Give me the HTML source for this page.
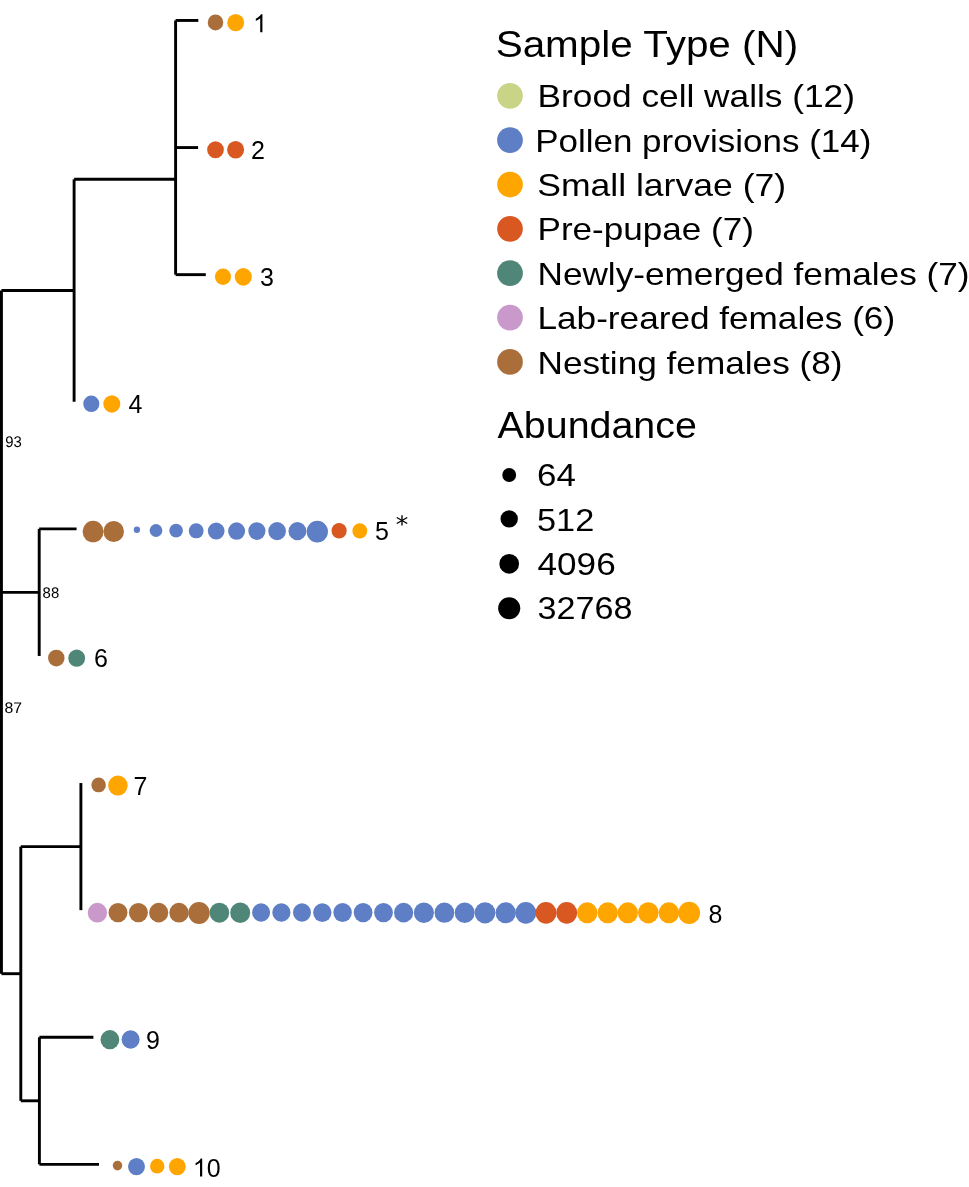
<!DOCTYPE html><html><head><meta charset="utf-8"><style>html,body{margin:0;padding:0;background:#fff;width:969px;height:1187px;overflow:hidden}svg{position:absolute;left:0;top:0;will-change:transform}text{font-family:"Liberation Sans",sans-serif}</style></head><body>
<svg width="969" height="1187" viewBox="0 0 969 1187">
<rect width="969" height="1187" fill="#fff"/>
<g stroke="#000" stroke-width="2.9" stroke-linecap="butt" fill="none">
<line x1="1.45" y1="290.45" x2="1.45" y2="973.70"/>
<line x1="1.45" y1="290.45" x2="74.10" y2="290.45"/>
<line x1="74.10" y1="179.30" x2="74.10" y2="401.75"/>
<line x1="74.10" y1="179.30" x2="175.60" y2="179.30"/>
<line x1="175.60" y1="20.45" x2="175.60" y2="274.65"/>
<line x1="175.60" y1="20.45" x2="198.30" y2="20.45"/>
<line x1="175.60" y1="147.55" x2="198.10" y2="147.55"/>
<line x1="175.60" y1="274.65" x2="205.80" y2="274.65"/>
<line x1="1.45" y1="592.40" x2="39.20" y2="592.40"/>
<line x1="39.20" y1="528.85" x2="39.20" y2="655.95"/>
<line x1="39.20" y1="528.85" x2="76.60" y2="528.85"/>
<line x1="1.45" y1="973.70" x2="20.80" y2="973.70"/>
<line x1="20.80" y1="846.60" x2="20.80" y2="1100.80"/>
<line x1="20.80" y1="846.60" x2="80.90" y2="846.60"/>
<line x1="80.90" y1="783.05" x2="80.90" y2="910.15"/>
<line x1="20.80" y1="1100.80" x2="39.40" y2="1100.80"/>
<line x1="39.40" y1="1037.25" x2="39.40" y2="1164.35"/>
<line x1="39.40" y1="1037.25" x2="93.40" y2="1037.25"/>
<line x1="39.40" y1="1164.35" x2="99.00" y2="1164.35"/>
</g>
<g>
<ellipse cx="215.50" cy="22.46" rx="7.75" ry="7.94" fill="#AA6E3A"/>
<ellipse cx="235.70" cy="22.66" rx="8.50" ry="8.71" fill="#FFA500"/>
<ellipse cx="215.50" cy="149.72" rx="8.35" ry="8.56" fill="#D95721"/>
<ellipse cx="235.60" cy="149.76" rx="8.50" ry="8.71" fill="#D95721"/>
<ellipse cx="223.00" cy="276.74" rx="8.05" ry="8.25" fill="#FFA500"/>
<ellipse cx="243.30" cy="276.87" rx="8.55" ry="8.76" fill="#FFA500"/>
<ellipse cx="91.30" cy="403.84" rx="8.05" ry="8.25" fill="#5E7EC6"/>
<ellipse cx="111.80" cy="403.96" rx="8.50" ry="8.71" fill="#FFA500"/>
<ellipse cx="93.10" cy="531.58" rx="10.50" ry="10.76" fill="#AA6E3A"/>
<ellipse cx="113.70" cy="531.51" rx="10.25" ry="10.51" fill="#AA6E3A"/>
<ellipse cx="136.90" cy="529.67" rx="3.15" ry="3.23" fill="#5E7EC6"/>
<ellipse cx="156.00" cy="530.50" rx="6.35" ry="6.51" fill="#5E7EC6"/>
<ellipse cx="176.10" cy="530.62" rx="6.80" ry="6.97" fill="#5E7EC6"/>
<ellipse cx="196.20" cy="530.77" rx="7.40" ry="7.58" fill="#5E7EC6"/>
<ellipse cx="216.20" cy="531.02" rx="8.35" ry="8.56" fill="#5E7EC6"/>
<ellipse cx="236.60" cy="531.06" rx="8.50" ry="8.71" fill="#5E7EC6"/>
<ellipse cx="256.90" cy="531.09" rx="8.60" ry="8.81" fill="#5E7EC6"/>
<ellipse cx="277.10" cy="531.14" rx="8.80" ry="9.02" fill="#5E7EC6"/>
<ellipse cx="297.40" cy="531.16" rx="8.90" ry="9.12" fill="#5E7EC6"/>
<ellipse cx="317.30" cy="531.62" rx="10.65" ry="10.92" fill="#5E7EC6"/>
<ellipse cx="339.10" cy="530.83" rx="7.60" ry="7.79" fill="#D95721"/>
<ellipse cx="359.80" cy="530.79" rx="7.45" ry="7.64" fill="#FFA500"/>
<ellipse cx="56.30" cy="658.10" rx="8.25" ry="8.46" fill="#AA6E3A"/>
<ellipse cx="76.70" cy="658.13" rx="8.40" ry="8.61" fill="#4F8677"/>
<ellipse cx="98.60" cy="784.93" rx="7.25" ry="7.43" fill="#AA6E3A"/>
<ellipse cx="117.90" cy="785.58" rx="9.75" ry="9.99" fill="#FFA500"/>
<ellipse cx="97.40" cy="912.66" rx="9.65" ry="9.89" fill="#CA99CB"/>
<ellipse cx="118.00" cy="912.62" rx="9.50" ry="9.74" fill="#AA6E3A"/>
<ellipse cx="138.40" cy="912.62" rx="9.50" ry="9.74" fill="#AA6E3A"/>
<ellipse cx="158.70" cy="912.63" rx="9.55" ry="9.79" fill="#AA6E3A"/>
<ellipse cx="179.00" cy="912.66" rx="9.65" ry="9.89" fill="#AA6E3A"/>
<ellipse cx="199.00" cy="912.94" rx="10.75" ry="11.02" fill="#AA6E3A"/>
<ellipse cx="219.40" cy="912.68" rx="9.75" ry="9.99" fill="#4F8677"/>
<ellipse cx="240.20" cy="912.75" rx="10.00" ry="10.25" fill="#4F8677"/>
<ellipse cx="261.10" cy="912.49" rx="9.00" ry="9.22" fill="#5E7EC6"/>
<ellipse cx="281.40" cy="912.52" rx="9.10" ry="9.33" fill="#5E7EC6"/>
<ellipse cx="302.00" cy="912.49" rx="9.00" ry="9.22" fill="#5E7EC6"/>
<ellipse cx="322.30" cy="912.53" rx="9.15" ry="9.38" fill="#5E7EC6"/>
<ellipse cx="342.60" cy="912.55" rx="9.25" ry="9.48" fill="#5E7EC6"/>
<ellipse cx="363.10" cy="912.59" rx="9.40" ry="9.63" fill="#5E7EC6"/>
<ellipse cx="383.50" cy="912.59" rx="9.40" ry="9.63" fill="#5E7EC6"/>
<ellipse cx="403.60" cy="912.65" rx="9.60" ry="9.84" fill="#5E7EC6"/>
<ellipse cx="423.90" cy="912.76" rx="10.05" ry="10.30" fill="#5E7EC6"/>
<ellipse cx="444.40" cy="912.72" rx="9.90" ry="10.15" fill="#5E7EC6"/>
<ellipse cx="464.70" cy="912.75" rx="10.00" ry="10.25" fill="#5E7EC6"/>
<ellipse cx="485.00" cy="912.84" rx="10.35" ry="10.61" fill="#5E7EC6"/>
<ellipse cx="505.70" cy="912.80" rx="10.20" ry="10.45" fill="#5E7EC6"/>
<ellipse cx="525.80" cy="912.88" rx="10.50" ry="10.76" fill="#5E7EC6"/>
<ellipse cx="546.00" cy="912.88" rx="10.50" ry="10.76" fill="#D95721"/>
<ellipse cx="566.70" cy="912.88" rx="10.50" ry="10.76" fill="#D95721"/>
<ellipse cx="587.20" cy="912.80" rx="10.20" ry="10.45" fill="#FFA500"/>
<ellipse cx="607.70" cy="912.80" rx="10.20" ry="10.45" fill="#FFA500"/>
<ellipse cx="627.80" cy="912.80" rx="10.20" ry="10.45" fill="#FFA500"/>
<ellipse cx="648.30" cy="912.83" rx="10.30" ry="10.56" fill="#FFA500"/>
<ellipse cx="668.90" cy="912.81" rx="10.25" ry="10.51" fill="#FFA500"/>
<ellipse cx="689.20" cy="912.97" rx="10.85" ry="11.12" fill="#FFA500"/>
<ellipse cx="109.90" cy="1039.69" rx="9.40" ry="9.63" fill="#4F8677"/>
<ellipse cx="130.60" cy="1039.59" rx="9.00" ry="9.22" fill="#5E7EC6"/>
<ellipse cx="117.50" cy="1165.58" rx="4.75" ry="4.87" fill="#AA6E3A"/>
<ellipse cx="136.50" cy="1166.55" rx="8.45" ry="8.66" fill="#5E7EC6"/>
<ellipse cx="157.20" cy="1166.22" rx="7.20" ry="7.38" fill="#FFA500"/>
<ellipse cx="177.30" cy="1166.55" rx="8.45" ry="8.66" fill="#FFA500"/>
</g>
<g font-size="25" fill="#000">
<path transform="translate(253.10 32.15) scale(0.01221 -0.01221)" d="M763 0L583 0L583 1147Q518 1085 412 1023Q306 961 221 930L221 1104Q372 1175 485 1276Q598 1377 645 1472L763 1472Z"/>
<text x="251.00" y="158.75">2</text>
<text x="259.90" y="285.65">3</text>
<text x="128.60" y="412.85">4</text>
<text x="375.10" y="539.85">5</text>
<text x="94.10" y="666.75">6</text>
<text x="133.60" y="794.75">7</text>
<text x="708.50" y="922.85">8</text>
<text x="146.10" y="1048.75">9</text>
<path transform="translate(192.90 1176.55) scale(0.01221 -0.01221)" d="M763 0L583 0L583 1147Q518 1085 412 1023Q306 961 221 930L221 1104Q372 1175 485 1276Q598 1377 645 1472L763 1472Z"/>
<text x="206.81" y="1176.55">0</text>
</g>
<g stroke="#000" stroke-width="1.35" stroke-linecap="butt"><line x1="402" y1="515.2" x2="402" y2="525.6"/><line x1="396.8" y1="517.5" x2="407.2" y2="523.5"/><line x1="396.8" y1="523.5" x2="407.2" y2="517.5"/></g>
<g font-size="15.4" fill="#000">
<text transform="translate(5.20 446.80) scale(0.970 1.0) skewX(0.1)">93</text>
<text transform="translate(42.60 597.80) scale(0.970 1.0) skewX(0.1)">88</text>
<text transform="translate(4.40 713.00) scale(1.030 1.0) skewX(0.1)">87</text>
</g>
<text x="495.7" y="57" font-size="37.5" textLength="302.5" lengthAdjust="spacingAndGlyphs">Sample Type (N)</text>
<circle cx="510" cy="95.85" r="12.85" fill="#C9D487"/>
<text x="537.60" y="107.40" font-size="32" textLength="317.3" lengthAdjust="spacingAndGlyphs">Brood cell walls (12)</text>
<circle cx="510" cy="140.19" r="12.85" fill="#5E7EC6"/>
<text x="535.20" y="151.76" font-size="32" textLength="336.1" lengthAdjust="spacingAndGlyphs">Pollen provisions (14)</text>
<circle cx="510" cy="184.53" r="12.85" fill="#FFA500"/>
<text x="537.20" y="196.12" font-size="32" textLength="248.9" lengthAdjust="spacingAndGlyphs">Small larvae (7)</text>
<circle cx="510" cy="228.87" r="12.85" fill="#D95721"/>
<text x="537.50" y="240.48" font-size="32" textLength="216.4" lengthAdjust="spacingAndGlyphs">Pre-pupae (7)</text>
<circle cx="510" cy="273.21" r="12.85" fill="#4F8677"/>
<text x="537.50" y="284.84" font-size="32" textLength="432.0" lengthAdjust="spacingAndGlyphs">Newly-emerged females (7)</text>
<circle cx="510" cy="317.55" r="12.85" fill="#CA99CB"/>
<text x="537.50" y="329.20" font-size="32" textLength="357.6" lengthAdjust="spacingAndGlyphs">Lab-reared females (6)</text>
<circle cx="510" cy="361.89" r="12.85" fill="#AA6E3A"/>
<text x="537.50" y="373.56" font-size="32" textLength="305.0" lengthAdjust="spacingAndGlyphs">Nesting females (8)</text>
<text x="497.6" y="438" font-size="37.5" textLength="199.2" lengthAdjust="spacingAndGlyphs">Abundance</text>
<circle cx="509.2" cy="475.00" r="6.95" fill="#000"/>
<text x="537.00" y="486.30" font-size="32" textLength="38.8" lengthAdjust="spacingAndGlyphs">64</text>
<circle cx="509.2" cy="518.90" r="8.70" fill="#000"/>
<text x="537.00" y="530.60" font-size="32" textLength="57.2" lengthAdjust="spacingAndGlyphs">512</text>
<circle cx="509.2" cy="563.80" r="9.85" fill="#000"/>
<text x="537.50" y="574.90" font-size="32" textLength="78.2" lengthAdjust="spacingAndGlyphs">4096</text>
<circle cx="509.2" cy="608.30" r="11.05" fill="#000"/>
<text x="537.60" y="619.20" font-size="32" textLength="94.9" lengthAdjust="spacingAndGlyphs">32768</text>
</svg></body></html>
